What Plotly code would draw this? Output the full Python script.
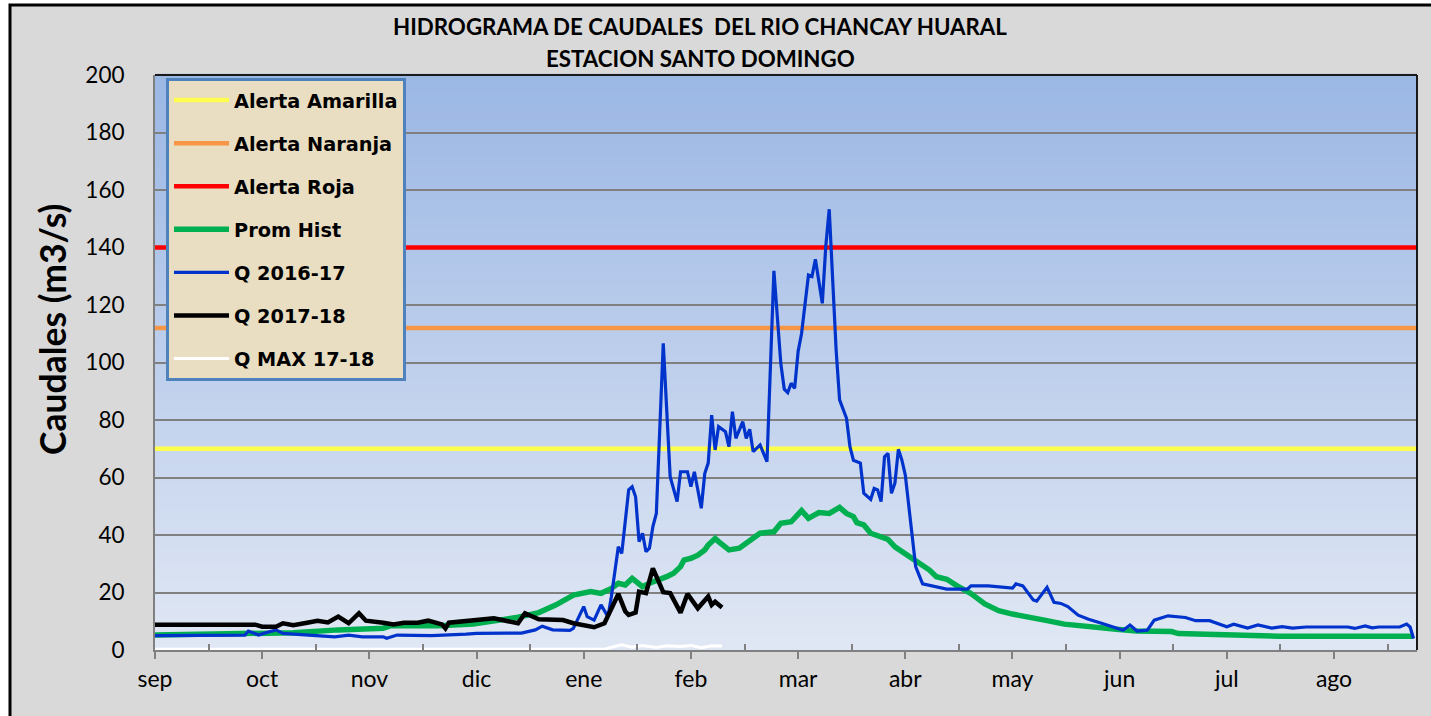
import plotly.graph_objects as go

# ---------------- data ----------------
months = ["sep", "oct", "nov", "dic", "ene", "feb", "mar", "abr", "may", "jun", "jul", "ago"]
n_days = 365

alert_amarilla = 70
alert_naranja = 112
alert_roja = 140

prom_days = [0, 20, 30, 40, 53, 62, 66, 68, 82, 92, 100, 105, 111, 116, 121, 124, 126, 129, 132, 134, 136,
             138, 141, 143, 146, 148, 150, 152, 153, 155, 157, 159, 160, 162, 163, 166, 169, 171, 175, 179,
             181, 184, 187, 189, 192, 195, 198, 200, 202, 203, 205, 207, 210, 212, 214, 216, 218, 221, 224,
             226, 229, 232, 234, 236, 240, 244, 248, 254, 258, 263, 267, 278, 284, 294, 296, 308, 310, 323,
             325, 364]
prom_vals = [5.2, 5.4, 5.6, 6.0, 7.0, 7.4, 7.6, 8.4, 8.4, 9.0, 10.2, 11.4, 13.0, 15.7, 19.1, 19.6, 20.3, 19.7,
             21.4, 23.2, 22.6, 24.9, 22.0, 23.2, 24.3, 25.5, 26.7, 29.0, 31.3, 31.9, 33.0, 34.8, 36.5, 38.8,
             37.7, 34.8, 35.4, 37.1, 40.6, 41.1, 44.1, 44.6, 48.5, 45.8, 47.8, 47.5, 49.6, 47.5, 46.4, 44.3,
             43.5, 40.6, 39.4, 38.5, 35.9, 34.2, 33.0, 30.1, 27.8, 25.5, 24.6, 22.3, 21.2, 19.6, 16.0, 13.7,
             12.5, 11.3, 10.2, 9.0, 8.4, 7.2, 6.6, 6.4, 5.7, 5.4, 5.1, 4.9, 4.8, 4.8]

q1617_days = [0, 10, 20, 26, 27, 30, 32, 35, 37, 45, 52, 56, 60, 66, 67, 70, 80, 90, 93, 102, 106, 110, 112,
              115, 120, 121, 124, 125, 127, 129, 131, 132, 134, 135, 136, 137, 138, 139, 140, 141, 142, 143,
              144, 145, 147, 148, 149, 151, 152, 154, 155, 156, 158, 159, 160, 161, 162, 163, 165, 166, 167,
              168, 170, 171, 172, 173, 175, 177, 179, 181, 182, 183, 184, 185, 186, 187, 189, 190, 191, 193,
              194, 195, 196, 197, 198, 200, 201, 202, 204, 205, 207, 208, 209, 210, 211, 212, 213, 214, 215,
              216, 217, 219, 220, 222, 225, 229, 235, 236, 241, 248, 249, 251, 254, 255, 258, 260, 262, 264,
              267, 270, 274, 280, 282, 284, 287, 289, 293, 298, 301, 305, 310, 312, 316, 319, 323, 326, 329,
              333, 345, 347, 350, 352, 354, 360, 362, 363, 364]
q1617_vals = [5.0, 5.0, 5.0, 5.2, 6.6, 5.2, 6.0, 7.0, 5.8, 5.3, 4.6, 5.2, 4.6, 4.6, 4.1, 5.2, 5.0, 5.5, 5.8,
              5.9, 5.9, 7.0, 8.3, 7.0, 6.8, 7.5, 15.1, 11.6, 10.4, 15.7, 11.6, 18.6, 35.9, 33.6, 44.1, 55.7,
              56.8, 53.3, 37.7, 40.6, 34.2, 35.4, 42.9, 47.5, 106.7, 82.3, 60.3, 51.6, 62.0, 62.0, 56.8, 62.0,
              49.3, 61.4, 65.0, 81.7, 69.6, 77.7, 75.9, 70.7, 82.9, 73.6, 79.4, 73.6, 76.8, 69.0, 71.3, 65.5,
              131.9, 99.7, 90.7, 89.5, 92.8, 91.0, 103.8, 110.1, 130.4, 129.9, 135.9, 120.6, 140.3, 153.3,
              127.5, 104.3, 87.0, 80.6, 70.7, 66.0, 65.0, 54.5, 52.4, 56.2, 55.7, 51.6, 67.2, 68.4, 54.5, 58.0,
              69.8, 66.1, 60.9, 38.3, 29.0, 23.0, 22.2, 21.2, 21.2, 22.3, 22.3, 21.5, 23.0, 22.3, 17.4, 17.0,
              21.8, 16.6, 16.2, 15.1, 12.1, 10.7, 9.2, 6.9, 8.7, 6.6, 6.9, 10.4, 11.9, 11.3, 10.2, 10.2, 8.1,
              9.0, 7.6, 8.7, 7.6, 8.1, 7.6, 8.0, 8.0, 7.5, 8.4, 7.7, 8.0, 8.0, 9.0, 8.0, 4.0]

q1718_days = [0, 29, 31, 35, 37, 40, 44, 47, 50, 53, 56, 59, 61, 63, 66, 69, 72, 76, 79, 83, 84, 85, 92, 98,
              105, 107, 111, 118, 121, 127, 130, 132, 134, 136, 137, 139, 140, 142, 144, 147, 149, 152, 154,
              157, 160, 161, 162, 164]
q1718_vals = [8.8, 8.8, 8.1, 8.1, 9.3, 8.6, 9.5, 10.2, 9.6, 11.6, 9.3, 12.8, 10.2, 10.0, 9.5, 8.9, 9.5, 9.5,
              10.2, 8.9, 7.5, 9.5, 10.4, 11.0, 9.3, 12.8, 10.7, 10.4, 9.3, 7.9, 9.3, 14.0, 19.5, 13.5, 12.2,
              13.0, 20.3, 19.8, 28.4, 20.1, 19.8, 13.0, 19.5, 14.5, 18.6, 15.7, 16.8, 14.8]

qmax_days = [0, 130, 133, 135, 138, 141, 145, 148, 152, 155, 158, 161, 164]
qmax_vals = [0.3, 0.3, 1.2, 1.8, 1.0, 1.6, 0.9, 1.5, 1.2, 1.6, 0.8, 1.5, 1.4]

# ---------------- figure ----------------
PL, PR, PT, PB = 155, 1417, 75, 650
W, H = 1431, 716
pw, ph = PR - PL, PB - PT


def px(x):
    return (x - PL) / pw


def py(y):
    return (PB - y) / ph


fig = go.Figure()

full_x = [0, n_days]
for name, val, col in [("Alerta Amarilla", alert_amarilla, "#FFFF4D"),
                       ("Alerta Naranja", alert_naranja, "#F79646"),
                       ("Alerta Roja", alert_roja, "#FF0000")]:
    fig.add_trace(go.Scatter(x=full_x, y=[val, val], mode="lines", name=name, legendgroup=name,
                             line=dict(color=col, width=4.5)))

fig.add_trace(go.Scatter(x=prom_days, y=prom_vals, mode="lines", name="Prom Hist", legendgroup="ph",
                         line=dict(color="#00B050", width=5.5)))
fig.add_trace(go.Scatter(x=q1617_days, y=q1617_vals, mode="lines", name="Q 2016-17", legendgroup="q1",
                         line=dict(color="#0033CC", width=3.2)))
fig.add_trace(go.Scatter(x=q1718_days, y=q1718_vals, mode="lines", name="Q 2017-18", legendgroup="q2",
                         line=dict(color="#000000", width=4.5)))
fig.add_trace(go.Scatter(x=qmax_days, y=qmax_vals, mode="lines", name="Q MAX 17-18", legendgroup="qm",
                         line=dict(color="#FFFFFF", width=3)))

shapes = []
# outer frame
shapes.append(dict(type="rect", xref="paper", yref="paper", x0=px(10), x1=px(1445), y0=py(730), y1=py(5),
                   fillcolor="#D9D9D9", line=dict(color="#000000", width=3), layer="below"))
# gradient background of plot area
top = (155, 183, 228)
bot = (224, 231, 244)
N = 90
for i in range(N):
    t = i / (N - 1)
    c = tuple(round(top[k] + (bot[k] - top[k]) * t) for k in range(3))
    shapes.append(dict(type="rect", xref="x domain", yref="y domain", x0=0, x1=1,
                       y0=1 - (i + 1) / N, y1=1 - i / N + 0.002,
                       fillcolor="rgb(%d,%d,%d)" % c, line=dict(width=0), layer="below"))
# top and right dark borders
shapes.append(dict(type="line", xref="x domain", yref="y domain", x0=0, x1=1, y0=1, y1=1,
                   line=dict(color="#1a1a1a", width=2)))
shapes.append(dict(type="line", xref="x domain", yref="y domain", x0=1, x1=1, y0=0, y1=1,
                   line=dict(color="#1a1a1a", width=2)))

tick_step = 31.0
tickvals = [k * tick_step for k in range(len(months))]
minor_vals = [k * tick_step + tick_step / 2 for k in range(len(months))]

fig.update_layout(
    width=W, height=H,
    margin=dict(l=PL, r=W - PR, t=PT, b=H - PB),
    paper_bgcolor="#FFFFFF",
    plot_bgcolor="#DFE6F3",
    shapes=shapes,
    showlegend=True,
    legend=dict(x=px(166), y=py(78), xanchor="left", yanchor="top",
                bgcolor="#E9DDC2", bordercolor="#4F81BD", borderwidth=3,
                font=dict(family="DejaVu Sans", size=19.3, color="#000000", weight="bold"),
                tracegroupgap=15, itemwidth=55, traceorder="grouped"),
    xaxis=dict(range=[0, n_days], tickmode="array", tickvals=tickvals, ticktext=months,
               ticks="outside", ticklen=7, tickwidth=1.5, tickcolor="#808080",
               minor=dict(tickmode="array", tickvals=minor_vals, ticks="inside", ticklen=6,
                          tickwidth=1.5, tickcolor="#808080", showgrid=False),
               showgrid=False, zeroline=False, showline=True, linecolor="#808080", linewidth=2,
               tickfont=dict(family="Lato", size=23, color="#000000")),
    yaxis=dict(range=[0, 200], dtick=20, showgrid=True, gridcolor="#808080", gridwidth=1.5,
               zeroline=False, showline=True, linecolor="#808080", linewidth=2,
               ticks="", ticklabelstandoff=24,
               tickfont=dict(family="Lato", size=22.5, color="#000000")),
    annotations=[
        dict(text="<b>HIDROGRAMA DE CAUDALES \u00a0DEL RIO CHANCAY HUARAL</b>", xref="paper", yref="paper",
             x=px(700), y=py(27), showarrow=False, xanchor="center", yanchor="middle",
             font=dict(family="Lato", size=22.3, color="#000000")),
        dict(text="<b>ESTACION SANTO DOMINGO</b>", xref="paper", yref="paper",
             x=px(700), y=py(58), showarrow=False, xanchor="center", yanchor="middle",
             font=dict(family="Lato", size=22.3, color="#000000")),
        dict(text="<b>Caudales (m3/s)</b>", xref="paper", yref="paper", textangle=-90,
             x=px(52), y=py(330), showarrow=False, xanchor="center", yanchor="middle",
             font=dict(family="Lato", size=35.5, color="#000000")),
    ],
)

fig.write_html("out.html", config={"displayModeBar": False},
               post_script="document.body.style.margin='0';document.body.style.overflow='hidden';")
